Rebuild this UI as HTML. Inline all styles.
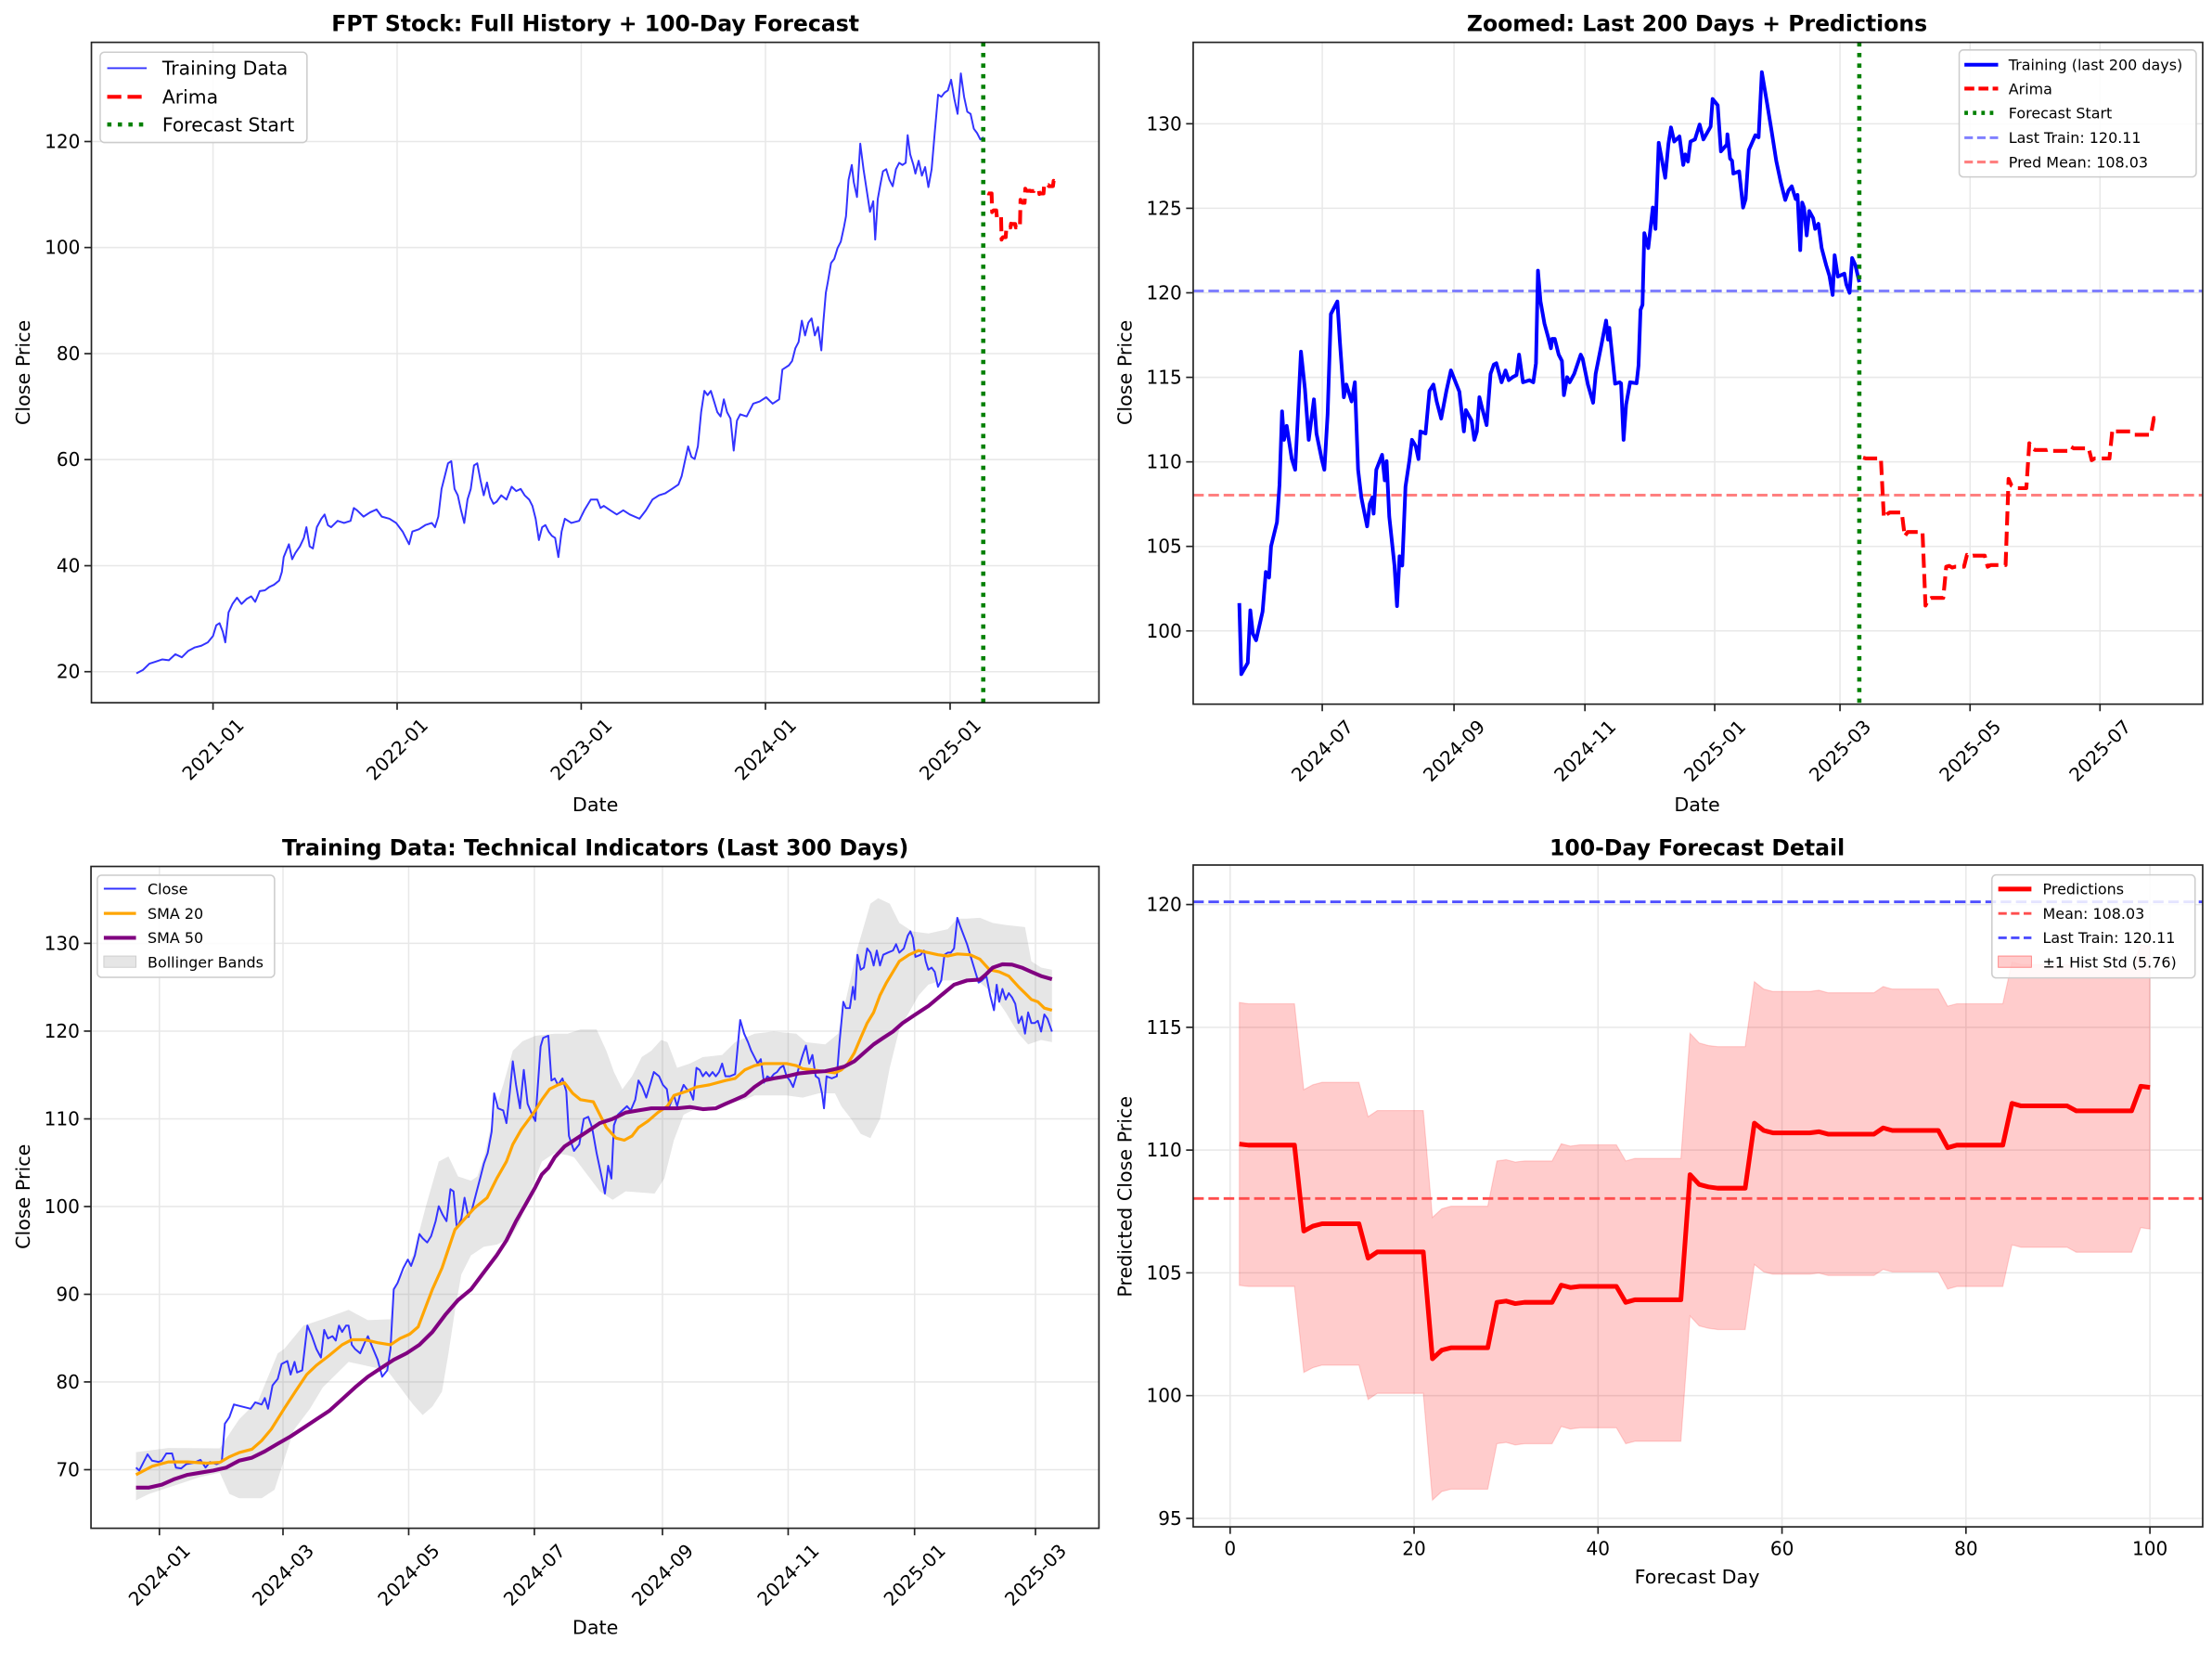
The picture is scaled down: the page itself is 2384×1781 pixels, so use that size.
<!DOCTYPE html>
<html><head><meta charset="utf-8">
<style>
html,body{margin:0;padding:0;background:#fff;}
svg{display:block;font-family:"DejaVu Sans","Liberation Sans",sans-serif;}
</style></head>
<body>
<svg id="s" xmlns="http://www.w3.org/2000/svg" width="2384" height="1781" viewBox="0 0 1568 1171.4">
<rect width="1568" height="1172" fill="#fff"/>
<defs>
<clipPath id="c1"><rect x="64.8" y="30" width="714.2" height="468"/></clipPath>
<clipPath id="c2"><rect x="845.8" y="30" width="715.6" height="469"/></clipPath>
<clipPath id="c3"><rect x="64.5" y="614" width="714.5" height="469"/></clipPath>
<clipPath id="c4"><rect x="845.8" y="613" width="715.6" height="469"/></clipPath>
</defs>
<g id="g"></g>
<!-- titles -->
<text x="422" y="22" font-size="15.5" font-weight="bold" text-anchor="middle">FPT Stock: Full History + 100-Day Forecast</text>
<text x="1203" y="22" font-size="15.5" font-weight="bold" text-anchor="middle">Zoomed: Last 200 Days + Predictions</text>
<text x="422" y="606" font-size="15.5" font-weight="bold" text-anchor="middle">Training Data: Technical Indicators (Last 300 Days)</text>
<text x="1203" y="606" font-size="15.5" font-weight="bold" text-anchor="middle">100-Day Forecast Detail</text>
<!-- axis labels -->
<text x="422" y="575" font-size="13.6" text-anchor="middle">Date</text>
<text x="1203" y="575" font-size="13.6" text-anchor="middle">Date</text>
<text x="422" y="1158" font-size="13.6" text-anchor="middle">Date</text>
<text x="1203" y="1122" font-size="13.6" text-anchor="middle">Forecast Day</text>
<text transform="translate(21,264) rotate(-90)" font-size="13.6" text-anchor="middle">Close Price</text>
<text transform="translate(802,264) rotate(-90)" font-size="13.6" text-anchor="middle">Close Price</text>
<text transform="translate(21,848) rotate(-90)" font-size="13.6" text-anchor="middle">Close Price</text>
<text transform="translate(802,848) rotate(-90)" font-size="13.6" text-anchor="middle">Predicted Close Price</text>
</svg>
<script>
(function(){
var out=[];
function P(pts,st){out.push('<polyline fill="none" stroke-linejoin="round" points="'+pts.map(function(p){return p[0].toFixed(1)+','+p[1].toFixed(1)}).join(' ')+'" '+st+'/>');}
function L(x1,y1,x2,y2,st){out.push('<line x1="'+x1.toFixed(1)+'" y1="'+y1.toFixed(1)+'" x2="'+x2.toFixed(1)+'" y2="'+y2.toFixed(1)+'" '+st+'/>');}
function T(x,y,s,st){out.push('<text x="'+x.toFixed(1)+'" y="'+y.toFixed(1)+'" '+st+'>'+s+'</text>');}
function Z(a,ox,kx,oy,ky){var r=[];for(var i=0;i<a.length;i+=2)r.push([ox+a[i]/kx,oy+a[i+1]/ky]);return r;}
var GR='stroke="#e8e8e8" stroke-width="1"';
var F=[110.25,110.2,110.2,110.2,110.2,110.2,110.2,106.7,106.9,107,107,107,107,107,105.6,105.85,105.85,105.85,105.85,105.85,105.85,101.5,101.85,101.95,101.95,101.95,101.95,101.95,103.8,103.85,103.75,103.8,103.8,103.8,103.8,104.5,104.4,104.45,104.45,104.45,104.45,104.45,103.8,103.9,103.9,103.9,103.9,103.9,103.9,109,108.6,108.5,108.45,108.45,108.45,108.45,111.1,110.8,110.7,110.7,110.7,110.7,110.7,110.75,110.65,110.65,110.65,110.65,110.65,110.65,110.9,110.8,110.8,110.8,110.8,110.8,110.8,110.1,110.2,110.2,110.2,110.2,110.2,110.2,111.9,111.8,111.8,111.8,111.8,111.8,111.8,111.6,111.6,111.6,111.6,111.6,111.6,111.6,112.6,112.55];
function axes(x0,y0,x1,y1,xt,yt,xlab,ylab,rot){
  xt.forEach(function(t){L(t,y0,t,y1,GR);});
  yt.forEach(function(t){L(x0,t,x1,t,GR);});
}
function frame(x0,y0,x1,y1,xt,yt,xlab,ylab,rot){
  out.push('<rect x="'+x0+'" y="'+y0+'" width="'+(x1-x0)+'" height="'+(y1-y0)+'" fill="none" stroke="#222" stroke-width="1.1"/>');
  xt.forEach(function(t,i){L(t,y1,t,y1+5,'stroke="#222" stroke-width="1.1"');
    if(rot){out.push('<text font-size="13.2" text-anchor="middle" dominant-baseline="central" transform="translate('+t.toFixed(1)+','+(y1+33)+') rotate(-45)">'+xlab[i]+'</text>');}
    else T(t,y1+20,xlab[i],'font-size="13.2" text-anchor="middle"');});
  yt.forEach(function(t,i){L(x0-5,t,x0,t,'stroke="#222" stroke-width="1.1"');T(x0-8,t+4.6,ylab[i],'font-size="13.2" text-anchor="end"');});
}
// ===== Panel 1 =====
var p1y=function(v){return 26.31+(245+(120-v)*12.44)/3.311;};
var p1xt=[151,281.5,412,542.6,673.5];
var p1yt=[20,40,60,80,100,120].map(p1y);
axes(64.8,30,779,498,p1xt,p1yt);
out.push('<g clip-path="url(#c1)">');
var a1=[70,1493,80,1485,90,1470,100,1465,110,1460,120,1462,130,1448,140,1455,150,1440,160,1432,170,1428,180,1420,188,1405,193,1380,198,1375,203,1395,207,1420,212,1350,218,1330,225,1315,232,1330,240,1318,247,1312,253,1325,260,1300,268,1298,275,1290,282,1285,290,1275,294,1255,297,1220,305,1190,310,1225,315,1210,322,1195,328,1175,332,1150,337,1195,342,1200,348,1150,355,1130,360,1120,365,1145,370,1150,380,1135,390,1140,400,1135,405,1105,410,1110,420,1125,430,1115,440,1108,448,1125,460,1130,470,1140,480,1160,490,1190,495,1160,505,1155,515,1145,525,1140,530,1150,535,1125,540,1060,545,1030,550,1000,555,995,560,1060,565,1075,570,1110,575,1140,580,1085,585,1060,590,1005,595,1000,600,1040,605,1075,610,1045,615,1080,620,1095,625,1090,632,1075,640,1085,648,1055,655,1065,662,1060,668,1075,675,1085,680,1100,685,1130,690,1180,695,1150,700,1145,705,1160,710,1170,715,1175,720,1220,725,1160,730,1130,740,1140,752,1135,760,1110,770,1085,780,1085,785,1105,790,1100,800,1110,810,1120,820,1110,830,1120,845,1130,855,1110,865,1085,875,1075,885,1070,895,1060,905,1050,910,1030,915,995,920,960,925,985,930,990,935,960,940,880,945,830,950,840,955,830,960,855,965,880,970,890,975,850,980,880,985,895,990,970,995,900,1000,885,1010,890,1015,875,1020,860,1030,855,1040,845,1050,860,1060,850,1065,780,1070,775,1075,770,1080,760,1085,730,1090,715,1095,665,1100,700,1105,670,1110,660,1115,700,1120,680,1125,735,1128,670,1132,600,1135,575,1140,530,1145,520,1150,495,1155,480,1160,445,1163,420,1167,335,1172,300,1175,340,1180,375,1185,250,1190,310,1195,360,1200,410,1205,385,1208,475,1212,380,1216,345,1220,315,1225,310,1230,335,1235,350,1240,310,1245,295,1250,300,1255,295,1258,230,1262,275,1267,300,1270,320,1275,290,1280,325,1285,305,1290,352,1295,310,1300,220,1305,135,1310,140,1315,130,1320,125,1325,100,1330,145,1335,180,1340,85,1345,140,1350,175,1355,180,1360,215,1365,225,1370,240,1375,235];
P(Z(a1,64.46,2.173,26.31,3.311),'stroke="#3333ff" stroke-width="1.3"');
P(F.map(function(v,i){return [64.46+(1381+i*1.04)/2.173,p1y(v)];}),'stroke="#ff0000" stroke-width="2.7" stroke-dasharray="10,4.4"');
L(697,30,697,498,'stroke="#008000" stroke-width="3" stroke-dasharray="3,4.5"');
out.push('</g>');
frame(64.8,30,779,498,p1xt,p1yt,['2021-01','2022-01','2023-01','2024-01','2025-01'],['20','40','60','80','100','120'],1);
// legend 1
out.push('<rect x="71" y="37" width="146.6" height="64" rx="3" fill="#fff" fill-opacity="0.85" stroke="#ccc"/>');
L(76,48.3,104,48.3,'stroke="#3333ff" stroke-width="1.3"');T(115,53,'Training Data','font-size="13.4"');
L(76,68.6,104,68.6,'stroke="#ff0000" stroke-width="2.7" stroke-dasharray="10,4.4"');T(115,73.3,'Arima','font-size="13.4"');
L(76,88.2,104,88.2,'stroke="#008000" stroke-width="3" stroke-dasharray="3,4.5"');T(115,93,'Forecast Start','font-size="13.4"');

// ===== Panel 2 =====
var p2y=function(v){return 26.31+(600+(120-v)*39.66)/3.311;};
var p2xt=[937.3,1030.7,1123.5,1215.5,1304.3,1396.5,1488.6];
var p2yt=[100,105,110,115,120,125,130].map(p2y);
axes(845.8,30,1561.4,499,p2xt,p2yt);
out.push('<g clip-path="url(#c2)">');
L(845.8,p2y(120.11),1561.4,p2y(120.11),'stroke="#8080ff" stroke-width="2" stroke-dasharray="7.5,3.3"');
L(845.8,p2y(108.03),1561.4,p2y(108.03),'stroke="#ff8080" stroke-width="2" stroke-dasharray="7.5,3.3"');
var a2=[71,1328,74,1495,84,1468,88,1345,92,1400,97,1415,107,1348,112,1255,117,1268,120,1195,129,1138,133,1050,137,878,140,945,144,912,152,990,157,1015,161,895,166,738,172,825,178,945,186,850,190,930,198,990,202,1015,207,885,212,650,222,620,226,715,232,845,236,815,244,855,249,810,254,1015,259,1080,263,1110,268,1148,272,1095,276,1080,278,1118,282,1015,291,980,295,1040,298,995,302,1125,310,1240,314,1335,318,1218,322,1240,327,1055,333,995,337,945,343,960,347,990,350,925,358,930,364,830,370,815,375,855,382,895,390,830,397,782,410,832,417,925,420,875,429,900,433,945,437,925,441,845,445,870,452,910,458,790,463,768,467,765,475,810,481,782,486,805,492,798,498,793,502,745,508,810,518,805,524,810,528,765,531,548,535,620,541,672,547,705,551,730,553,708,557,708,563,745,568,760,571,840,576,798,580,810,587,790,597,745,600,755,608,815,616,858,620,790,629,720,636,665,639,710,641,682,650,813,657,810,659,812,663,945,667,862,673,810,683,812,686,770,689,640,692,628,695,460,701,495,708,400,712,450,717,248,727,330,732,250,736,212,741,245,749,233,755,300,758,275,762,292,766,245,773,240,780,205,786,240,794,218,797,210,800,145,808,160,813,268,822,252,823,228,827,285,830,290,832,320,841,315,847,400,851,380,856,265,866,230,871,235,876,82,884,155,891,220,898,290,905,340,912,382,917,360,922,350,928,380,931,370,935,500,938,388,941,400,945,465,949,408,955,425,958,450,963,438,968,495,975,535,980,560,985,605,988,512,993,562,1003,555,1006,580,1011,600,1015,518,1020,535,1026,575];
P(Z(a2,845.8,2.173,26.31,3.311),'stroke="#0000ff" stroke-width="2.6"');
P(F.map(function(v,i){return [845.8+(1032+i*4.57)/2.173,p2y(v)];}),'stroke="#ff0000" stroke-width="2.7" stroke-dasharray="10,4.4"');
L(1318,30,1318,499,'stroke="#008000" stroke-width="3" stroke-dasharray="3,4.5"');
out.push('</g>');
frame(845.8,30,1561.4,499,p2xt,p2yt,['2024-07','2024-09','2024-11','2025-01','2025-03','2025-05','2025-07'],['100','105','110','115','120','125','130'],1);
out.push('<rect x="1388.8" y="35.4" width="168" height="90" rx="3" fill="#fff" fill-opacity="0.85" stroke="#ccc"/>');
var lg2=[['Training (last 200 days)','stroke="#0000ff" stroke-width="2.6"'],['Arima','stroke="#ff0000" stroke-width="2.7" stroke-dasharray="7,3"'],['Forecast Start','stroke="#008000" stroke-width="3" stroke-dasharray="2.5,3.5"'],['Last Train: 120.11','stroke="#8080ff" stroke-width="2" stroke-dasharray="6,3"'],['Pred Mean: 108.03','stroke="#ff8080" stroke-width="2" stroke-dasharray="6,3"']];
[45.9,62.8,80,97.6,114.8].forEach(function(y,i){L(1392.5,y,1416.4,y,lg2[i][1]);T(1423.8,y+3.8,lg2[i][0],'font-size="10.5"');});

// ===== Panel 3 =====
var p3y=function(v){return 611.7+(1423-(v-70)*20.58)/3.311;};
var p3xt=[113,200.6,289.7,378.8,469.6,558.7,648.3,734];
var p3yt=[70,80,90,100,110,120,130].map(p3y);
axes(64.5,614,779,1083,p3xt,p3yt);
out.push('<g clip-path="url(#c3)">');
var up=[70,1382,120,1372,200,1373,230,1305,260,1260,290,1150,300,1140,330,1085,360,1070,400,1048,430,1072,465,1070,470,1000,500,920,520,805,540,700,555,688,570,735,590,745,600,735,612,680,625,590,640,520,655,440,670,418,690,405,720,400,740,400,760,390,785,390,800,440,812,490,825,530,840,500,855,455,870,440,885,415,895,420,910,480,930,470,950,455,980,450,1000,420,1030,400,1060,395,1095,400,1110,420,1140,425,1160,400,1175,300,1190,200,1210,95,1222,82,1240,95,1255,140,1275,160,1300,165,1330,155,1345,130,1360,130,1380,128,1400,140,1420,145,1450,150,1460,230,1475,245,1492,250];
var lo=[70,1495,90,1480,130,1460,170,1440,200,1430,215,1480,230,1490,265,1490,285,1470,300,1400,315,1330,340,1280,360,1230,400,1170,430,1180,460,1190,475,1220,500,1270,515,1295,530,1275,545,1240,555,1150,565,1050,575,965,590,920,610,900,630,895,650,880,665,845,685,760,700,700,720,680,740,685,750,690,765,720,790,770,810,790,830,770,850,772,875,775,890,740,905,650,920,590,940,575,960,570,985,565,1000,560,1015,555,1030,545,1050,545,1080,545,1105,550,1130,540,1155,540,1165,570,1180,600,1195,635,1210,645,1225,600,1240,480,1255,390,1270,350,1285,310,1300,285,1320,275,1345,275,1360,275,1380,280,1400,305,1420,350,1440,400,1455,425,1475,415,1492,420];
var U=Z(up,64.46,2.19,611.7,3.311),Lo=Z(lo,64.46,2.19,611.7,3.311).reverse();
out.push('<polygon fill="#808080" fill-opacity="0.2" points="'+U.concat(Lo).map(function(p){return p[0].toFixed(1)+','+p[1].toFixed(1)}).join(' ')+'"/>');
var cl=[70,1418,75,1425,80,1410,88,1387,95,1402,105,1405,110,1402,117,1385,126,1385,132,1418,140,1420,148,1410,160,1407,170,1400,178,1418,185,1405,195,1410,203,1405,208,1315,215,1300,222,1270,235,1275,248,1280,255,1265,265,1270,270,1255,275,1280,282,1225,290,1210,296,1175,305,1168,310,1200,316,1170,320,1195,328,1190,336,1085,343,1110,350,1140,357,1160,362,1095,368,1115,375,1110,380,1120,385,1085,390,1100,396,1085,400,1085,405,1130,410,1140,418,1150,425,1125,430,1110,438,1140,445,1165,452,1205,460,1190,465,1140,470,1000,476,985,485,950,492,930,497,945,503,920,510,870,515,880,522,890,528,875,535,840,540,805,546,825,552,840,558,765,563,770,568,855,575,835,580,785,586,830,592,810,598,775,604,740,610,705,616,680,622,630,626,540,632,575,640,580,645,610,650,540,655,465,660,520,666,575,672,485,678,565,685,590,690,605,698,430,702,410,710,405,715,510,720,505,725,520,732,505,738,535,742,640,750,675,758,660,765,600,772,595,778,620,785,680,792,730,798,775,803,710,808,740,812,615,818,590,825,580,832,570,838,580,845,555,850,510,856,525,862,550,868,520,874,490,882,500,888,520,894,530,898,570,905,545,910,570,915,540,920,520,925,530,930,535,935,555,940,480,945,485,950,500,955,490,960,500,965,490,970,500,975,490,980,470,985,500,992,500,1000,495,1008,368,1014,400,1020,420,1025,440,1030,455,1035,470,1040,460,1045,515,1050,500,1055,505,1060,495,1065,490,1070,480,1075,475,1080,500,1085,510,1090,525,1095,500,1100,475,1105,450,1110,428,1115,470,1120,450,1125,500,1130,505,1135,540,1138,575,1142,500,1150,505,1158,500,1162,420,1168,325,1172,340,1178,340,1183,290,1186,320,1190,215,1195,250,1200,245,1205,200,1210,210,1215,240,1220,205,1225,240,1230,215,1237,210,1245,205,1250,190,1255,210,1262,200,1268,170,1272,160,1276,175,1280,220,1288,215,1293,205,1296,230,1300,250,1305,245,1310,255,1315,290,1320,275,1325,215,1330,210,1335,210,1340,200,1345,128,1350,150,1360,190,1370,240,1378,280,1383,275,1390,265,1396,310,1402,345,1406,285,1410,325,1415,295,1420,320,1425,305,1430,315,1435,330,1440,375,1445,360,1450,400,1455,350,1460,375,1465,375,1470,370,1475,395,1480,355,1485,365,1492,395];
P(Z(cl,64.46,2.19,611.7,3.311),'stroke="#3333ff" stroke-width="1.3"');
var s20=[70,1435,95,1415,120,1405,150,1405,180,1408,200,1406,215,1393,230,1383,250,1375,265,1355,280,1328,300,1280,318,1238,335,1200,350,1178,370,1155,390,1130,405,1118,425,1118,445,1125,465,1130,480,1115,495,1105,508,1088,520,1040,530,1000,545,950,555,905,565,860,580,835,595,810,615,785,630,740,645,700,655,660,668,625,678,605,690,580,700,555,712,530,725,520,735,515,748,540,760,555,780,560,790,590,800,620,815,645,828,650,840,640,850,620,865,605,880,585,895,570,905,545,925,535,940,525,960,520,985,510,1000,505,1015,485,1030,475,1045,470,1060,470,1080,470,1095,475,1105,482,1120,485,1135,488,1155,492,1165,485,1175,470,1185,445,1195,410,1205,375,1215,350,1225,310,1235,280,1245,255,1255,230,1270,215,1285,205,1300,210,1315,215,1330,218,1345,213,1365,215,1380,225,1395,250,1410,255,1425,265,1440,290,1450,305,1460,320,1470,325,1480,340,1492,345];
P(Z(s20,64.46,2.19,611.7,3.311),'stroke="#ffa500" stroke-width="2.1"');
var s50=[70,1465,90,1465,110,1458,130,1445,150,1435,170,1430,190,1425,210,1418,230,1402,250,1395,270,1380,290,1362,310,1345,330,1325,350,1305,370,1285,390,1258,410,1230,430,1205,450,1185,470,1165,490,1150,510,1130,530,1100,550,1060,570,1025,590,1000,610,960,630,920,645,885,660,840,675,800,690,760,700,730,710,715,720,690,735,665,750,650,770,630,790,610,810,600,830,585,850,580,870,575,890,575,910,575,930,572,950,577,970,575,985,565,1000,555,1015,545,1030,525,1045,510,1060,505,1080,500,1100,493,1120,490,1140,488,1155,483,1170,477,1185,465,1200,445,1215,425,1230,410,1245,395,1260,375,1280,355,1300,335,1320,310,1340,285,1360,275,1380,273,1390,260,1400,245,1415,237,1430,238,1445,245,1460,255,1475,265,1492,272];
P(Z(s50,64.46,2.19,611.7,3.311),'stroke="#800080" stroke-width="2.7"');
out.push('</g>');
frame(64.5,614,779,1083,p3xt,p3yt,['2024-01','2024-03','2024-05','2024-07','2024-09','2024-11','2025-01','2025-03'],['70','80','90','100','110','120','130'],1);
out.push('<rect x="69" y="620.2" width="125.6" height="72.4" rx="3" fill="#fff" fill-opacity="0.85" stroke="#ccc"/>');
L(73.6,629.8,96.4,629.8,'stroke="#3333ff" stroke-width="1.3"');T(104.6,633.6,'Close','font-size="10.5"');
L(73.6,647.3,96.4,647.3,'stroke="#ffa500" stroke-width="2.1"');T(104.6,651.1,'SMA 20','font-size="10.5"');
L(73.6,664.6,96.4,664.6,'stroke="#800080" stroke-width="2.7"');T(104.6,668.4,'SMA 50','font-size="10.5"');
out.push('<rect x="73.6" y="677.5" width="22.8" height="8" fill="#808080" fill-opacity="0.2" stroke="#ccc" stroke-width="0.6"/>');T(104.6,685.6,'Bollinger Bands','font-size="10.5"');

// ===== Panel 4 =====
var p4x=function(d){return 872+d*6.52;},p4y=function(v){return 1076-(v-95)*17.4;};
var p4xt=[0,20,40,60,80,100].map(p4x);
var p4yt=[95,100,105,110,115,120].map(p4y);
axes(845.8,613,1561.4,1082,p4xt,p4yt);
out.push('<g clip-path="url(#c4)">');
var up4=F.map(function(v,i){return [p4x(i+1),p4y(v+5.76)];}),lo4=F.map(function(v,i){return [p4x(i+1),p4y(v-5.76)];}).reverse();
out.push('<polygon fill="#ff0000" fill-opacity="0.2" stroke="#ff0000" stroke-opacity="0.15" stroke-width="0.8" points="'+up4.concat(lo4).map(function(p){return p[0].toFixed(1)+','+p[1].toFixed(1)}).join(' ')+'"/>');
L(845.8,p4y(108.03),1561.4,p4y(108.03),'stroke="#ff4d4d" stroke-width="1.9" stroke-dasharray="7.5,3.3"');
L(845.8,p4y(120.11),1561.4,p4y(120.11),'stroke="#4d4dff" stroke-width="1.9" stroke-dasharray="7.5,3.3"');
P(F.map(function(v,i){return [p4x(i+1),p4y(v)];}),'stroke="#ff0000" stroke-width="3.3"');
out.push('</g>');
frame(845.8,613,1561.4,1082,p4xt,p4yt,['0','20','40','60','80','100'],['95','100','105','110','115','120'],0);
out.push('<rect x="1412" y="620" width="144" height="73" rx="3" fill="#fff" fill-opacity="0.85" stroke="#ccc"/>');
L(1416.5,630,1440,630,'stroke="#ff0000" stroke-width="3.3"');T(1448,633.8,'Predictions','font-size="10.5"');
L(1416.5,647.3,1440,647.3,'stroke="#ff4d4d" stroke-width="1.9" stroke-dasharray="6,3"');T(1448,651.1,'Mean: 108.03','font-size="10.5"');
L(1416.5,664.6,1440,664.6,'stroke="#4d4dff" stroke-width="1.9" stroke-dasharray="6,3"');T(1448,668.4,'Last Train: 120.11','font-size="10.5"');
out.push('<rect x="1416.5" y="677.5" width="23.5" height="8" fill="#ff0000" fill-opacity="0.2" stroke="#ff8080" stroke-width="0.6"/>');T(1448,685.6,'±1 Hist Std (5.76)','font-size="10.5"');

document.getElementById('g').innerHTML=out.join('');
})();
</script>
</body></html>
